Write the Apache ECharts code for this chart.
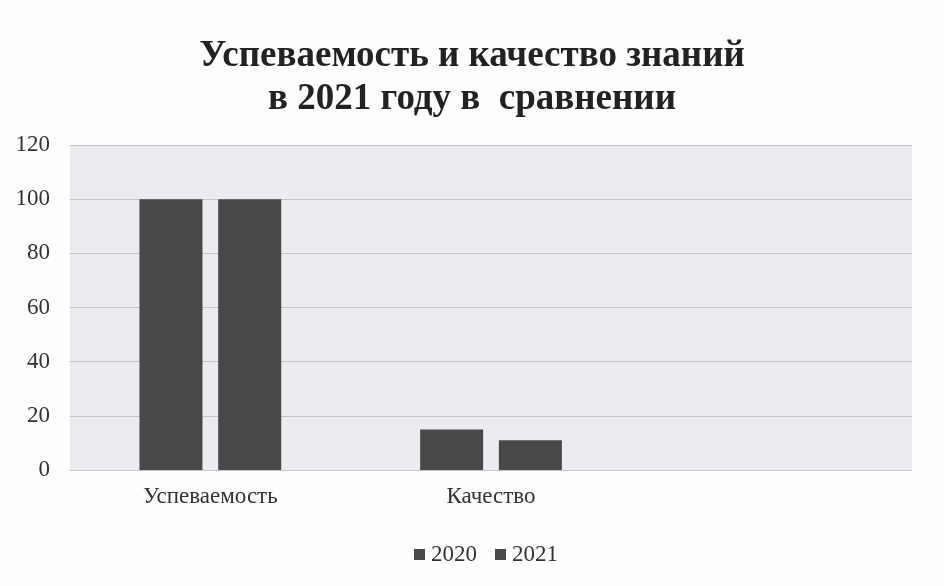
<!DOCTYPE html>
<html><head><meta charset="utf-8">
<script src="https://cdn.jsdelivr.net/npm/echarts@6/dist/echarts.min.js"></script>
<style>html,body{margin:0;padding:0;background:#fff}#c{width:944px;height:586px}</style>
</head><body><div id="c"></div>
<script>
const categories = ['Успеваемость', 'Качество', ''];
const series2020 = [100, 15, null];
const series2021 = [100, 11, null];
const yTicks = [0, 20, 40, 60, 80, 100, 120];
const seriesNames = ['2020', '2021'];

const font = '"Liberation Serif", "DejaVu Serif", serif';
const chart = echarts.init(document.getElementById('c'));
chart.setOption({
  backgroundColor: '#fdfdfd',
  animation: false,
  title: {
    text: 'Успеваемость и качество знаний\nв 2021 году в  сравнении',
    left: 'center', top: 30,
    textStyle: { fontFamily: font, fontSize: 37, fontWeight: 'bold', color: '#222', lineHeight: 43 }
  },
  legend: {
    bottom: 15, left: 409,
    itemWidth: 11, itemHeight: 11, itemGap: 18, icon: 'rect',
    textStyle: { fontFamily: font, fontSize: 23, color: '#333', padding: [0, 0, 0, 1] },
    data: seriesNames
  },
  grid: { left: 70, right: 32, top: 145, bottom: 116, backgroundColor: '#ececf0', show: true, borderWidth: 0 },
  xAxis: {
    type: 'category', data: categories,
    axisLine: { lineStyle: { color: '#c8c8cc' } },
    axisTick: { show: false },
    axisLabel: { fontFamily: font, fontSize: 23, color: '#333', margin: 15 }
  },
  yAxis: {
    type: 'value', min: yTicks[0], max: yTicks[yTicks.length - 1], interval: 20,
    axisLine: { show: false }, axisTick: { show: false },
    axisLabel: { fontFamily: font, fontSize: 23, color: '#333', margin: 20 },
    splitLine: { lineStyle: { color: '#c4c4c8', width: 1 } }
  },
  series: [
    { name: seriesNames[0], type: 'bar', data: series2020, barWidth: 63, barGap: '25%', itemStyle: { color: '#484848' } },
    { name: seriesNames[1], type: 'bar', data: series2021, barWidth: 63, barGap: '25%', itemStyle: { color: '#484848' } }
  ]
});
</script></body></html>
